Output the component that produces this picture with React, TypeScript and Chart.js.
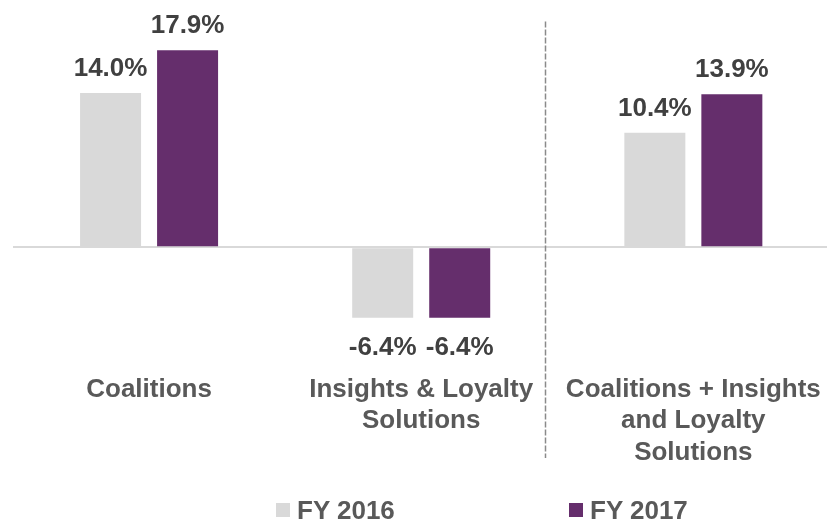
import React, { useEffect, useRef } from 'react';
import { Chart, registerables } from 'chart.js';

Chart.register(...registerables);

const categories: string[][] = [
  ['Coalitions'],
  ['Insights & Loyalty', 'Solutions'],
  ['Coalitions + Insights', 'and Loyalty', 'Solutions'],
];
const seriesNames = ['FY 2016', 'FY 2017'];
const fy2016 = [14.0, -6.4, 10.4];
const fy2017 = [17.9, -6.4, 13.9];
const seriesColors = ['#D9D9D9', '#652E6C'];

const FONT = '"Liberation Sans", Arial, Helvetica, sans-serif';

const valueLabels = {
  id: 'valueLabels',
  afterDatasetsDraw(chart: any) {
    const ctx = chart.ctx;
    ctx.save();
    ctx.font = `bold 26px ${FONT}`;
    ctx.fillStyle = '#404040';
    ctx.textAlign = 'center';
    ctx.textBaseline = 'alphabetic';
    chart.data.datasets.forEach((ds: any, di: number) => {
      const meta = chart.getDatasetMeta(di);
      meta.data.forEach((el: any, i: number) => {
        const v = ds.data[i];
        const text = v.toFixed(1) + '%';
        if (v >= 0) ctx.fillText(text, el.x, el.y - 17);
        else ctx.fillText(text, el.x, el.y + 37);
      });
    });
    ctx.restore();
  },
};

const separator = {
  id: 'separator',
  afterDraw(chart: any) {
    const x = chart.scales.x;
    const y = chart.scales.y;
    const px = Math.round(x.getPixelForValue(1.455)) + 0.5;
    const top = y.getPixelForValue(20.5);
    const bottom = x.bottom - 27;
    const ctx = chart.ctx;
    ctx.save();
    ctx.strokeStyle = '#8a8a8a';
    ctx.lineWidth = 1.5;
    ctx.setLineDash([6, 2]);
    ctx.beginPath();
    ctx.moveTo(px, top);
    ctx.lineTo(px, bottom);
    ctx.stroke();
    ctx.restore();
  },
};

export default function App() {
  const ref = useRef<HTMLCanvasElement | null>(null);

  useEffect(() => {
    if (!ref.current) return;
    const chart = new Chart(ref.current, {
      type: 'bar',
      data: {
        labels: categories,
        datasets: [
          {
            label: seriesNames[0],
            data: fy2016,
            backgroundColor: seriesColors[0],
            categoryPercentage: 0.566,
            barPercentage: 0.792,
          },
          {
            label: seriesNames[1],
            data: fy2017,
            backgroundColor: seriesColors[1],
            categoryPercentage: 0.566,
            barPercentage: 0.792,
          },
        ],
      },
      options: {
        responsive: false,
        animation: false,
        devicePixelRatio: 1,
        layout: { padding: { left: 13, right: 1, top: 27, bottom: 34 } },
        plugins: {
          legend: { display: false },
          tooltip: { enabled: false },
        },
        scales: {
          x: {
            grid: { display: false, drawTicks: false },
            border: { display: false },
            ticks: {
              padding: 17,
              color: '#595959',
              font: { family: FONT, size: 26, weight: 'bold', lineHeight: 1.2 },
              maxRotation: 0,
              autoSkip: false,
            },
          },
          y: {
            min: -10,
            max: 20,
            border: { display: false },
            ticks: { display: false, stepSize: 10 },
            grid: {
              drawTicks: false,
              lineWidth: 2,
              color: (c: any) => (c.tick && c.tick.value === 0 ? '#D9D9D9' : 'rgba(0,0,0,0)'),
            },
          },
        },
      },
      plugins: [valueLabels, separator],
    });
    return () => chart.destroy();
  }, []);

  const legendText: React.CSSProperties = {
    position: 'absolute',
    top: 494,
    fontFamily: FONT,
    fontWeight: 'bold',
    fontSize: 26,
    lineHeight: '32px',
    color: '#595959',
    whiteSpace: 'nowrap',
  };
  const box = (color: string, left: number): React.CSSProperties => ({
    position: 'absolute',
    left,
    top: 503,
    width: 14,
    height: 14,
    background: color,
  });

  return (
    <div
      style={{
        position: 'fixed',
        left: 0,
        top: 0,
        width: 827,
        height: 519,
        overflow: 'hidden',
        background: '#ffffff',
      }}
    >
      <canvas ref={ref} width={838} height={519} style={{ position: 'absolute', left: 0, top: 0 }} />
      <div style={box(seriesColors[0], 276)} />
      <span style={{ ...legendText, left: 297 }}>{seriesNames[0]}</span>
      <div style={box(seriesColors[1], 569)} />
      <span style={{ ...legendText, left: 590 }}>{seriesNames[1]}</span>
    </div>
  );
}
